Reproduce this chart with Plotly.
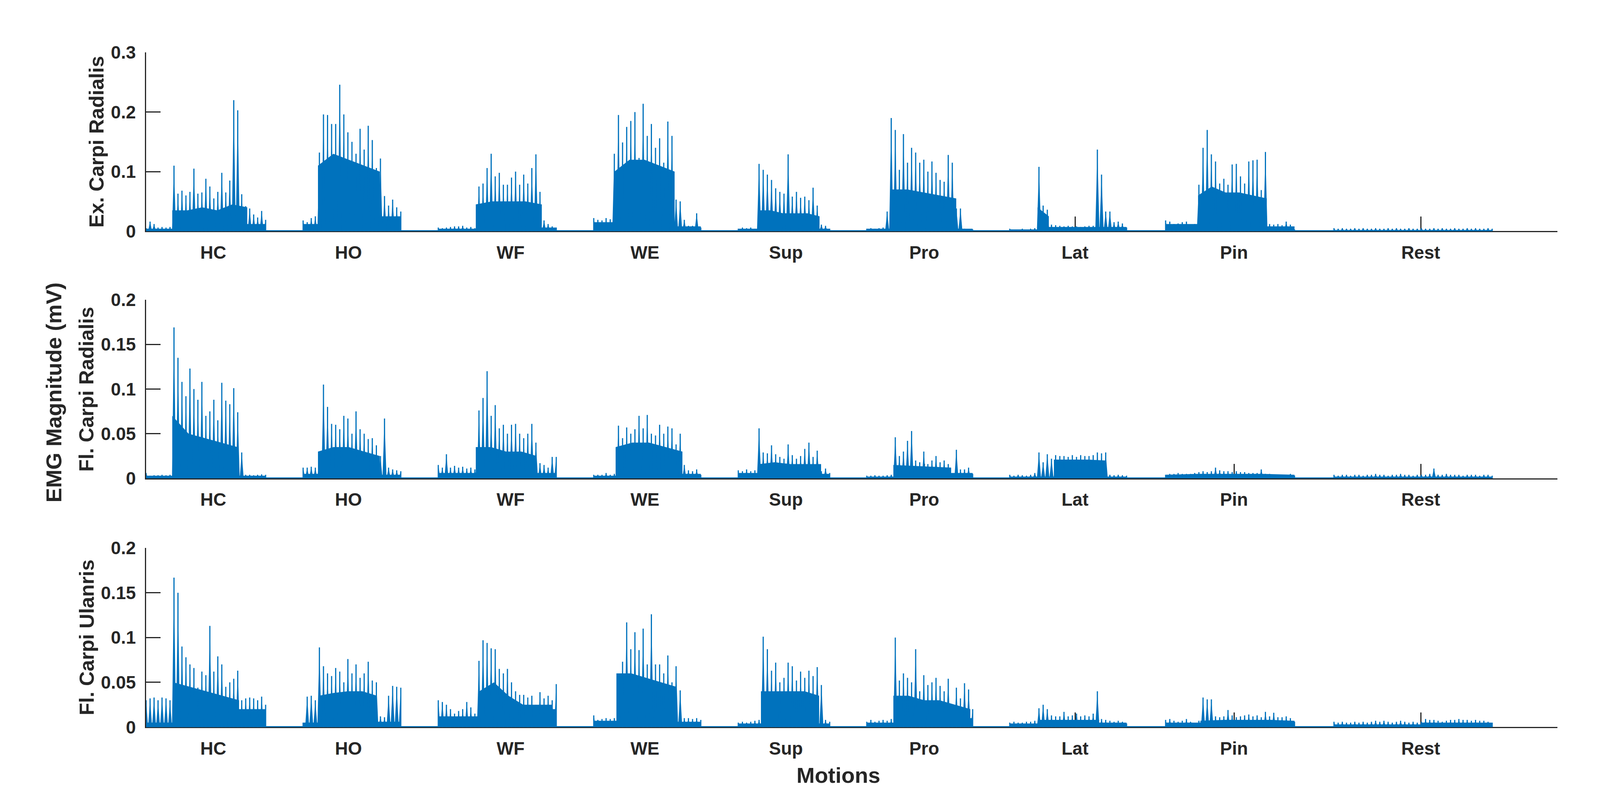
import numpy as np
import plotly.graph_objects as go

# ---------------- data (x in samples, y in mV) ----------------
motions = ["HC", "HO", "WF", "WE", "Sup", "Pro", "Lat", "Pin", "Rest"]
motion_tick = [172, 518, 933, 1277, 1638, 1992, 2378, 2785, 3263]
seg_start = [0, 402, 748, 1146, 1516, 1845, 2211, 2610, 3041]
seg_end = [306, 652, 1050, 1420, 1750, 2116, 2510, 2940, 3446]
x_axis_end = 3613

# activity onset / offset per channel and motion
ecr_on = [67, 440, 844, 1199, 1568, 1907, 2282, 2693, 3041]
ecr_off = [259, 598, 1013, 1353, 1724, 2074, 2311, 2869, 3446]
fcr_on = [67, 440, 844, 1202, 1570, 1913, 2324, 2610, 3041]
fcr_off = [234, 598, 1000, 1373, 1728, 2061, 2456, 2940, 3446]
fcu_on = [70, 442, 853, 1204, 1574, 1913, 2284, 2699, 3263]
fcu_off = [238, 591, 1040, 1357, 1723, 2110, 2440, 2940, 3446]

# Ex. Carpi Radialis: spike peaks (whole segment) and body [pre, active..., post]
ecr_pk_HC = [0.005,0.016,0.012,0.006,0.007,0.006,0.007,0.110,0.063,0.068,0.060,0.066,0.105,0.063,0.065,0.088,0.075,0.055,0.066,0.098,0.065,0.085,0.220,0.203,0.062,0.042,0.038,0.028,0.023,0.034,0.019]
ecr_bd_HC = [0.004,0.035,0.035,0.040,0.035,0.045,0.040,0.012]
ecr_pk_HO = [0.018,0.015,0.022,0.025,0.132,0.196,0.195,0.180,0.180,0.246,0.196,0.166,0.150,0.130,0.172,0.137,0.177,0.153,0.106,0.122,0.059,0.043,0.053,0.040,0.033]
ecr_bd_HO = [0.012,0.110,0.130,0.120,0.110,0.100,0.025]
ecr_pk_WF = [0.006,0.005,0.006,0.007,0.008,0.008,0.009,0.006,0.007,0.005,0.075,0.080,0.106,0.130,0.092,0.098,0.078,0.078,0.090,0.100,0.078,0.095,0.080,0.106,0.129,0.066,0.018,0.012,0.008,0.006]
ecr_bd_WF = [0.004,0.045,0.050,0.050,0.050,0.045,0.006]
ecr_pk_WE = [0.022,0.019,0.018,0.022,0.020,0.130,0.195,0.149,0.175,0.185,0.200,0.123,0.214,0.160,0.180,0.140,0.156,0.115,0.184,0.160,0.053,0.050,0.019,0.009,0.009,0.030,0.006]
ecr_bd_WE = [0.015,0.100,0.120,0.120,0.110,0.100,0.008]
ecr_pk_Sup = [0.004,0.006,0.005,0.006,0.004,0.113,0.103,0.095,0.086,0.072,0.066,0.063,0.129,0.058,0.066,0.056,0.058,0.052,0.073,0.043,0.011,0.009,0.004]
ecr_bd_Sup = [0.004,0.035,0.035,0.030,0.030,0.030,0.025,0.004]
ecr_pk_Pro = [0.004,0.005,0.004,0.005,0.006,0.033,0.190,0.170,0.103,0.163,0.115,0.140,0.132,0.115,0.120,0.100,0.117,0.098,0.086,0.083,0.128,0.115,0.038,0.038,0.004,0.003,0.003]
ecr_bd_Pro = [0.004,0.070,0.070,0.065,0.060,0.055,0.004]
ecr_pk_Lat = [0.004,0.003,0.003,0.004,0.003,0.004,0.005,0.108,0.043,0.036,0.011,0.010,0.009,0.008,0.009,0.008,0.008,0.007,0.008,0.009,0.009,0.137,0.095,0.033,0.033,0.015,0.016,0.013,0.006]
ecr_bd_Lat = [0.003,0.040,0.025,0.007]
ecr_pk_Pin = [0.018,0.016,0.012,0.013,0.015,0.016,0.011,0.012,0.078,0.140,0.170,0.129,0.117,0.080,0.088,0.078,0.112,0.113,0.092,0.080,0.117,0.119,0.120,0.069,0.133,0.012,0.011,0.012,0.010,0.016,0.011,0.003]
ecr_bd_Pin = [0.012,0.060,0.075,0.065,0.065,0.060,0.055,0.008]
ecr_pk_Rest = [0.005,0.004,0.005,0.004,0.004,0.005,0.004,0.005,0.004,0.004,0.005,0.004,0.004,0.005,0.004,0.005,0.004,0.004,0.005,0.004,0.004,0.005,0.004,0.004,0.005,0.004,0.005,0.004,0.004,0.005,0.004,0.004,0.005,0.004,0.005,0.004,0.004,0.005,0.004]
ecr_bd_Rest = [0.002,0.002,0.002,0.002]

# Fl. Carpi Radialis
fcr_pk_HC = [0.006,0.003,0.0035,0.0035,0.004,0.0035,0.004,0.169,0.135,0.108,0.092,0.123,0.100,0.088,0.108,0.070,0.075,0.088,0.065,0.107,0.087,0.083,0.101,0.074,0.029,0.004,0.004,0.0035,0.004,0.0045,0.004]
fcr_bd_HC = [0.003,0.070,0.050,0.045,0.040,0.035,0.003]
fcr_pk_HO = [0.012,0.012,0.013,0.012,0.027,0.105,0.080,0.061,0.060,0.055,0.070,0.067,0.050,0.075,0.055,0.050,0.044,0.045,0.037,0.025,0.067,0.012,0.010,0.009,0.008]
fcr_bd_HO = [0.005,0.030,0.035,0.035,0.030,0.025,0.004]
fcr_pk_WF = [0.015,0.012,0.027,0.012,0.014,0.012,0.013,0.011,0.012,0.010,0.076,0.090,0.120,0.070,0.082,0.056,0.060,0.050,0.060,0.061,0.050,0.045,0.050,0.061,0.040,0.017,0.015,0.012,0.024,0.024]
fcr_bd_WF = [0.006,0.035,0.035,0.030,0.030,0.025,0.006]
fcr_pk_WE = [0.004,0.004,0.004,0.006,0.004,0.005,0.059,0.045,0.057,0.050,0.055,0.070,0.056,0.071,0.050,0.048,0.060,0.050,0.058,0.056,0.038,0.050,0.015,0.009,0.008,0.010,0.004]
fcr_bd_WE = [0.003,0.035,0.040,0.040,0.035,0.030,0.005]
fcr_pk_Sup = [0.009,0.008,0.010,0.008,0.009,0.056,0.029,0.028,0.037,0.027,0.024,0.022,0.038,0.026,0.022,0.025,0.033,0.040,0.024,0.031,0.008,0.011,0.006]
fcr_bd_Sup = [0.006,0.016,0.018,0.016,0.016,0.016,0.005]
fcr_pk_Pro = [0.003,0.003,0.0035,0.003,0.003,0.0035,0.004,0.046,0.025,0.030,0.042,0.053,0.020,0.018,0.030,0.016,0.020,0.025,0.018,0.020,0.016,0.004,0.032,0.010,0.010,0.012,0.005]
fcr_bd_Pro = [0.002,0.015,0.014,0.013,0.012,0.006]
fcr_pk_Lat = [0.004,0.003,0.004,0.0035,0.003,0.004,0.006,0.029,0.018,0.027,0.022,0.026,0.025,0.025,0.024,0.026,0.024,0.026,0.025,0.025,0.026,0.029,0.028,0.029,0.004,0.0035,0.004,0.0035,0.003]
fcr_bd_Lat = [0.002,0.021,0.021,0.021,0.020,0.002]
fcr_pk_Pin = [0.004,0.005,0.005,0.006,0.005,0.005,0.005,0.006,0.007,0.008,0.007,0.008,0.012,0.009,0.008,0.008,0.007,0.008,0.007,0.007,0.006,0.006,0.006,0.010,0.005,0.005,0.004,0.004,0.004,0.004,0.005,0.003]
fcr_bd_Pin = [0.003,0.004,0.005,0.005,0.005,0.004,0.003]
fcr_pk_Rest = [0.004,0.003,0.004,0.004,0.003,0.004,0.004,0.003,0.004,0.004,0.005,0.004,0.004,0.003,0.004,0.004,0.005,0.004,0.004,0.003,0.004,0.004,0.004,0.005,0.011,0.004,0.004,0.005,0.004,0.004,0.004,0.003,0.004,0.004,0.004,0.003,0.004,0.004,0.003]
fcr_bd_Rest = [0.002,0.002,0.002,0.002]

# Fl. Carpi Ulanris
fcu_pk_HC = [0.030,0.032,0.033,0.030,0.033,0.032,0.030,0.167,0.150,0.090,0.078,0.070,0.066,0.044,0.062,0.058,0.113,0.062,0.079,0.070,0.045,0.050,0.054,0.063,0.030,0.032,0.033,0.032,0.030,0.034,0.025]
fcu_bd_HC = [0.005,0.050,0.045,0.040,0.035,0.030,0.020]
fcu_pk_HO = [0.005,0.034,0.035,0.030,0.089,0.068,0.060,0.057,0.066,0.062,0.050,0.076,0.060,0.070,0.055,0.060,0.073,0.052,0.050,0.012,0.011,0.035,0.046,0.045,0.044]
fcu_bd_HO = [0.005,0.035,0.038,0.040,0.040,0.035,0.006]
fcu_pk_WF = [0.030,0.028,0.025,0.020,0.015,0.018,0.020,0.028,0.022,0.015,0.074,0.097,0.094,0.088,0.087,0.065,0.060,0.065,0.050,0.040,0.036,0.036,0.033,0.035,0.025,0.039,0.032,0.035,0.030,0.048]
fcu_bd_WF = [0.012,0.040,0.050,0.035,0.025,0.025,0.025,0.020]
fcu_pk_WE = [0.013,0.008,0.009,0.010,0.009,0.010,0.058,0.073,0.117,0.087,0.106,0.086,0.110,0.070,0.126,0.070,0.070,0.060,0.080,0.050,0.068,0.041,0.010,0.010,0.009,0.010,0.008]
fcu_bd_WE = [0.007,0.060,0.060,0.055,0.050,0.045,0.006]
fcu_pk_Sup = [0.005,0.006,0.005,0.006,0.007,0.008,0.101,0.087,0.063,0.072,0.050,0.055,0.072,0.068,0.052,0.062,0.055,0.063,0.057,0.067,0.047,0.008,0.006]
fcu_bd_Sup = [0.004,0.040,0.040,0.040,0.040,0.035,0.004]
fcu_pk_Pro = [0.006,0.008,0.006,0.007,0.008,0.007,0.009,0.100,0.052,0.060,0.055,0.050,0.087,0.040,0.058,0.047,0.050,0.055,0.046,0.040,0.054,0.008,0.044,0.032,0.049,0.042,0.020]
fcu_bd_Pro = [0.005,0.035,0.035,0.030,0.030,0.025,0.020,0.010]
fcu_pk_Lat = [0.005,0.006,0.005,0.005,0.006,0.006,0.007,0.021,0.025,0.020,0.013,0.012,0.012,0.017,0.012,0.013,0.015,0.012,0.013,0.012,0.015,0.040,0.009,0.008,0.007,0.006,0.007,0.006,0.004]
fcu_bd_Lat = [0.004,0.008,0.008,0.008,0.008,0.005]
fcu_pk_Pin = [0.008,0.009,0.007,0.006,0.007,0.009,0.006,0.005,0.007,0.033,0.031,0.031,0.012,0.011,0.012,0.019,0.013,0.011,0.012,0.013,0.014,0.012,0.013,0.011,0.017,0.012,0.016,0.011,0.011,0.012,0.010,0.006]
fcu_bd_Pin = [0.005,0.007,0.008,0.008,0.008,0.007,0.005]
fcu_pk_Rest = [0.006,0.005,0.006,0.005,0.005,0.006,0.005,0.006,0.005,0.006,0.007,0.006,0.007,0.006,0.005,0.006,0.007,0.006,0.005,0.006,0.005,0.006,0.009,0.008,0.008,0.007,0.006,0.007,0.008,0.008,0.009,0.008,0.008,0.007,0.008,0.007,0.007,0.006,0.005]
fcu_bd_Rest = [0.003,0.005,0.005,0.004]

channel_names = ["Ex. Carpi Radialis", "Fl. Carpi Radialis", "Fl. Carpi Ulanris"]
y_ranges = [[0, 0.3], [0, 0.2], [0, 0.2]]
y_ticks = [[0, 0.1, 0.2, 0.3], [0, 0.05, 0.1, 0.15, 0.2], [0, 0.05, 0.1, 0.15, 0.2]]

ecr_peaks = [ecr_pk_HC, ecr_pk_HO, ecr_pk_WF, ecr_pk_WE, ecr_pk_Sup, ecr_pk_Pro, ecr_pk_Lat, ecr_pk_Pin, ecr_pk_Rest]
ecr_bodies = [ecr_bd_HC, ecr_bd_HO, ecr_bd_WF, ecr_bd_WE, ecr_bd_Sup, ecr_bd_Pro, ecr_bd_Lat, ecr_bd_Pin, ecr_bd_Rest]
fcr_peaks = [fcr_pk_HC, fcr_pk_HO, fcr_pk_WF, fcr_pk_WE, fcr_pk_Sup, fcr_pk_Pro, fcr_pk_Lat, fcr_pk_Pin, fcr_pk_Rest]
fcr_bodies = [fcr_bd_HC, fcr_bd_HO, fcr_bd_WF, fcr_bd_WE, fcr_bd_Sup, fcr_bd_Pro, fcr_bd_Lat, fcr_bd_Pin, fcr_bd_Rest]
fcu_peaks = [fcu_pk_HC, fcu_pk_HO, fcu_pk_WF, fcu_pk_WE, fcu_pk_Sup, fcu_pk_Pro, fcu_pk_Lat, fcu_pk_Pin, fcu_pk_Rest]
fcu_bodies = [fcu_bd_HC, fcu_bd_HO, fcu_bd_WF, fcu_bd_WE, fcu_bd_Sup, fcu_bd_Pro, fcu_bd_Lat, fcu_bd_Pin, fcu_bd_Rest]
channels = [(ecr_peaks, ecr_bodies, ecr_on, ecr_off),
            (fcr_peaks, fcr_bodies, fcr_on, fcr_off),
            (fcu_peaks, fcu_bodies, fcu_on, fcu_off)]

# ---------------- style ----------------
BLUE = "#0072BD"
INK = "#262626"
FONT = "Liberation Sans, Arial, Helvetica, sans-serif"
W, H = 4109, 2047
x_dom = [366 / W, 3979 / W]
y_doms = [[1 - 572 / H, 1 - 103 / H], [1 - 1221 / H, 1 - 752 / H], [1 - 1874 / H, 1 - 1404 / H]]
SPIKE_HALF = 0.5   # half-width of a spike base, as a fraction of spike spacing

fig = go.Figure()
layout = dict(
    width=W, height=H, autosize=False,
    margin=dict(l=0, r=0, t=0, b=0),
    paper_bgcolor="white", plot_bgcolor="white",
    showlegend=False, hovermode=False,
    font=dict(family=FONT, color=INK),
)

for i, (pks, bds, on, off) in enumerate(channels):
    xa = "x" if i == 0 else f"x{i+1}"
    ya = "y" if i == 0 else f"y{i+1}"

    # dense body: pre-level, active envelope (between onset and offset), post-level
    bx_all, by_all = [], []
    for m in range(len(motions)):
        pre, act, post = bds[m][0], bds[m][1:-1], bds[m][-1]
        ax_ = np.linspace(on[m], off[m], len(act))
        bx_all += [seg_start[m], seg_start[m], on[m], *map(float, ax_), off[m], seg_end[m], seg_end[m], None]
        by_all += [0, pre, pre, *act, post, post, 0, None]
    fig.add_trace(go.Scatter(x=bx_all, y=by_all, mode="lines", fill="toself",
                             fillcolor=BLUE, line=dict(width=0, color=BLUE),
                             xaxis=xa, yaxis=ya, hoverinfo="skip"))

    # spikes: tapered bursts plus a thin line to each peak
    tx, ty, sx, sy = [], [], [], []
    for m in range(len(motions)):
        n = len(pks[m])
        px_ = np.linspace(seg_start[m], seg_end[m], n)
        half = SPIKE_HALF * (seg_end[m] - seg_start[m]) / (n - 1)
        for xv, yv in zip(px_, pks[m]):
            xv = float(xv)
            tx += [max(seg_start[m], xv - half), xv, min(seg_end[m], xv + half), None]
            ty += [0, yv, 0, None]
            sx += [xv, xv, None]
            sy += [0, yv, None]
    fig.add_trace(go.Scatter(x=tx, y=ty, mode="lines", fill="toself",
                             fillcolor=BLUE, line=dict(width=0, color=BLUE),
                             xaxis=xa, yaxis=ya, hoverinfo="skip"))
    fig.add_trace(go.Scatter(x=sx, y=sy, mode="lines",
                             line=dict(color=BLUE, width=3),
                             xaxis=xa, yaxis=ya, hoverinfo="skip"))
    # baseline of the recording
    fig.add_trace(go.Scatter(x=[seg_start[0], seg_end[-1]], y=[0, 0], mode="lines",
                             line=dict(color=BLUE, width=5),
                             xaxis=xa, yaxis=ya, hoverinfo="skip"))

    xk = "xaxis" if i == 0 else f"xaxis{i+1}"
    yk = "yaxis" if i == 0 else f"yaxis{i+1}"
    layout[xk] = dict(
        domain=x_dom, range=[0, x_axis_end], anchor=ya,
        tickmode="array", tickvals=motion_tick, ticktext=motions,
        ticks="inside", ticklen=37, tickwidth=3, tickcolor=INK,
        showline=True, linecolor=INK, linewidth=3,
        showgrid=False, zeroline=False, layer="below traces",
        tickfont=dict(family=FONT, size=46, color=INK, weight="bold"),
        ticklabelstandoff=12, fixedrange=True)
    layout[yk] = dict(
        domain=y_doms[i], range=y_ranges[i], anchor=xa,
        tickmode="array", tickvals=y_ticks[i],
        ticks="inside", ticklen=37, tickwidth=3, tickcolor=INK,
        showline=True, linecolor=INK, linewidth=3,
        showgrid=False, zeroline=False, layer="below traces",
        tickfont=dict(family=FONT, size=46, color=INK, weight="bold"),
        ticklabelstandoff=14, fixedrange=True)

label_pos = [(239, 338), (213, 987), (214, 1639)]
annotations = []
for name, (lx, ly) in zip(channel_names, label_pos):
    annotations.append(dict(text=name, x=lx / W, y=1 - ly / H, xref="paper", yref="paper",
                            showarrow=False, textangle=-90, xanchor="center", yanchor="middle",
                            font=dict(family=FONT, size=52, color=INK, weight="bold")))
annotations.append(dict(text="EMG Magnitude (mV)", x=130 / W, y=1 - 996 / H, xref="paper", yref="paper",
                        showarrow=False, textangle=-90, xanchor="center", yanchor="middle",
                        font=dict(family=FONT, size=56, color=INK, weight="bold")))
annotations.append(dict(text="Motions", x=2138 / W, y=1 - 2000 / H, xref="paper", yref="paper",
                        showarrow=False, xanchor="center", yanchor="middle",
                        font=dict(family=FONT, size=56, color=INK, weight="bold")))
layout["annotations"] = annotations
fig.update_layout(**layout)

fig.write_html("out.html")
